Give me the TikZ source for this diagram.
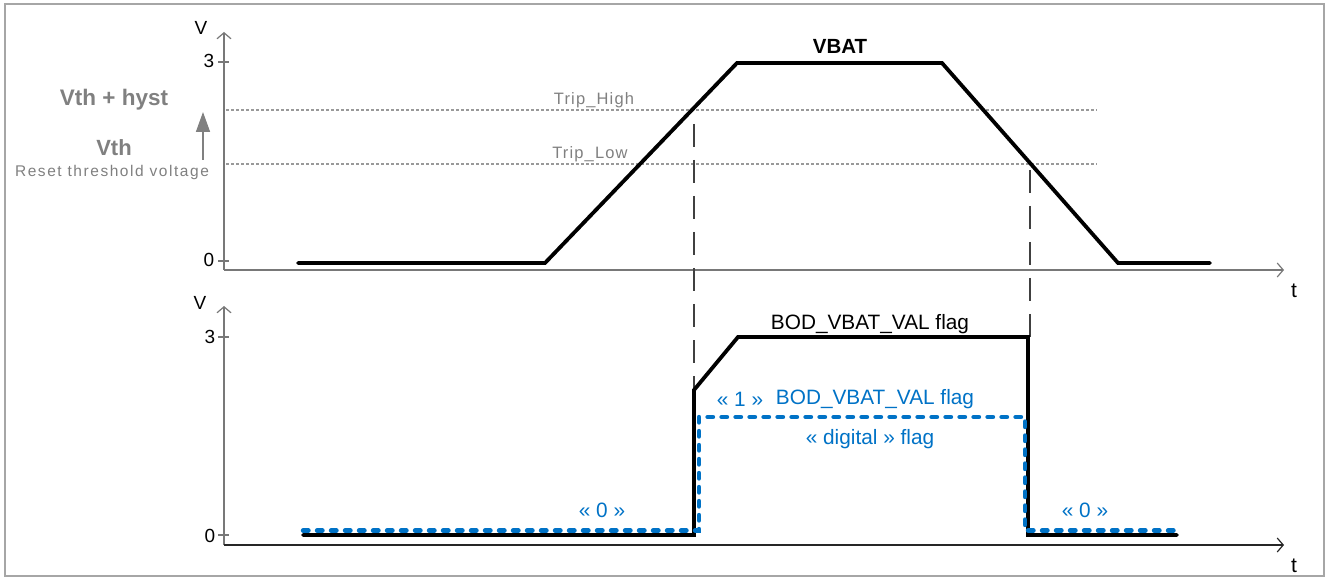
\documentclass[tikz,border=0pt]{standalone}
\usepackage{fontspec}
\setmainfont{Liberation Sans}
\newfontfamily\spacedfont[LetterSpace=10]{Liberation Sans}
\newfontfamily\tripfont[LetterSpace=7]{Liberation Sans}
\usetikzlibrary{arrows.meta}
\definecolor{flagblue}{RGB}{0,114,198}
\definecolor{txtgray}{RGB}{128,128,128}
\definecolor{axgray}{RGB}{120,120,120}
\begin{document}
\begin{tikzpicture}[x=1pt,y=-1pt,
  lbl/.style={inner sep=0pt,anchor=base,font=\fontsize{19}{19}\selectfont},
  flagtxt/.style={lbl,font=\fontsize{20.8}{21}\selectfont},
  graytxt/.style={lbl,text=txtgray},
  bluetxt/.style={flagtxt,text=flagblue},
  axis/.style={draw=axgray,line width=1.3pt,-{Straight Barb[length=6pt,width=14pt,line width=1.2pt]}},
  tick/.style={draw=axgray,line width=1.3pt},
  sig/.style={draw=black,line width=3.8pt,line join=miter,line cap=round},
  dig/.style={draw=flagblue,line width=4.4pt,line cap=round,dash pattern=on 5.5pt off 8.5pt},
  thr/.style={draw=txtgray!80,line width=1.2pt,dash pattern=on 3pt off 2pt},
  marker/.style={draw=black!75,line width=1.2pt,dash pattern=on 23pt off 13pt}]
\useasboundingbox (0,0) rectangle (1328,577);
\draw[gray!70,line width=1.2pt] (5,4) rectangle (1324,576);

% ---------- upper plot ----------
\coordinate (uo) at (224,270);
\coordinate (uy) at (224,32);
\coordinate (ux) at (1284,270);
\draw[axis] (uo) -- (uy);
\draw[axis] (uo) -- (ux);
\draw[tick] (218,62) -- (229,62);
\draw[tick] (218,261) -- (229,261);
\node[lbl] (uV) at (201,35) {V};
\node[lbl] (u3) at (209,68) {3};
\node[lbl] (u0) at (209,267) {0};
\node[lbl,font=\fontsize{21}{21}\selectfont] (ut) at (1294,298) {t};

% thresholds
\draw[thr] (226,110) -- (1097,110);
\draw[thr] (226,164) -- (1097,164);
\node[graytxt,font=\tripfont\fontsize{16.5}{16.5}\selectfont] (th) at (594,105) {Trip\_High};
\node[graytxt,font=\tripfont\fontsize{16.5}{16.5}\selectfont] (tl) at (590,159) {Trip\_Low};

% left annotations
\node[graytxt,font=\bfseries\fontsize{22.5}{22.5}\selectfont] (vh) at (114,106) {Vth + hyst};
\node[graytxt,font=\bfseries\fontsize{22}{22}\selectfont] (vt) at (114,156) {Vth};
\node[graytxt,font=\spacedfont\fontsize{15.5}{15.5}\selectfont] (rt) at (112,177) {Reset threshold voltage};
\coordinate (ga1) at (203,160);
\coordinate (ga2) at (203,112);
\draw[txtgray,line width=1.6pt,-{Triangle[length=20pt,width=14pt]}] (ga1) -- (ga2);

% VBAT
\draw[sig] (298,263) -- (545,263) -- (737,63) -- (942,63) -- (1118,263) -- (1210,263);
\node[lbl,font=\bfseries\fontsize{20.5}{20.5}\selectfont] (vbat) at (840,54) {VBAT};

% markers
\coordinate (m1a) at (694,124);
\coordinate (m1b) at (694,392);
\coordinate (m2a) at (1030,170);
\coordinate (m2b) at (1030,337);
\draw[marker] (m1a) -- (m1b);
\draw[marker] (m2a) -- (m2b);

% ---------- lower plot ----------
\coordinate (lo) at (224,545);
\coordinate (ly) at (224,306);
\coordinate (lx) at (1284,545);
\draw[axis] (lo) -- (ly);
\draw[axis,draw=black!85] (lo) -- (lx);
\draw[tick] (218,337) -- (229,337);
\draw[tick] (218,535) -- (229,535);
\node[lbl] (lV) at (200,310) {V};
\node[lbl] (l3) at (210,343) {3};
\node[lbl] (l0) at (210,542) {0};
\node[lbl,font=\fontsize{21}{21}\selectfont] (lt) at (1294,572) {t};

% analog flag
\draw[sig] (303,535) -- (694,535) -- (694,390) -- (738,337) -- (1028,337) -- (1028,535) -- (1177,535);
\node[flagtxt] (bodk) at (870,330) {BOD\_VBAT\_VAL flag};

% digital flag
\draw[dig] (303,530.5) -- (699,530.5) -- (699,417) -- (1025,417) -- (1025,530.5) -- (1181,530.5);
\node[bluetxt] (one) at (740,406) {« 1 »};
\node[bluetxt] (bodb) at (875,404) {BOD\_VBAT\_VAL flag};
\node[bluetxt] (digi) at (870,444) {« digital » flag};
\node[bluetxt] (z1) at (602,517) {« 0 »};
\node[bluetxt] (z2) at (1085,517) {« 0 »};
\end{tikzpicture}
\end{document}
